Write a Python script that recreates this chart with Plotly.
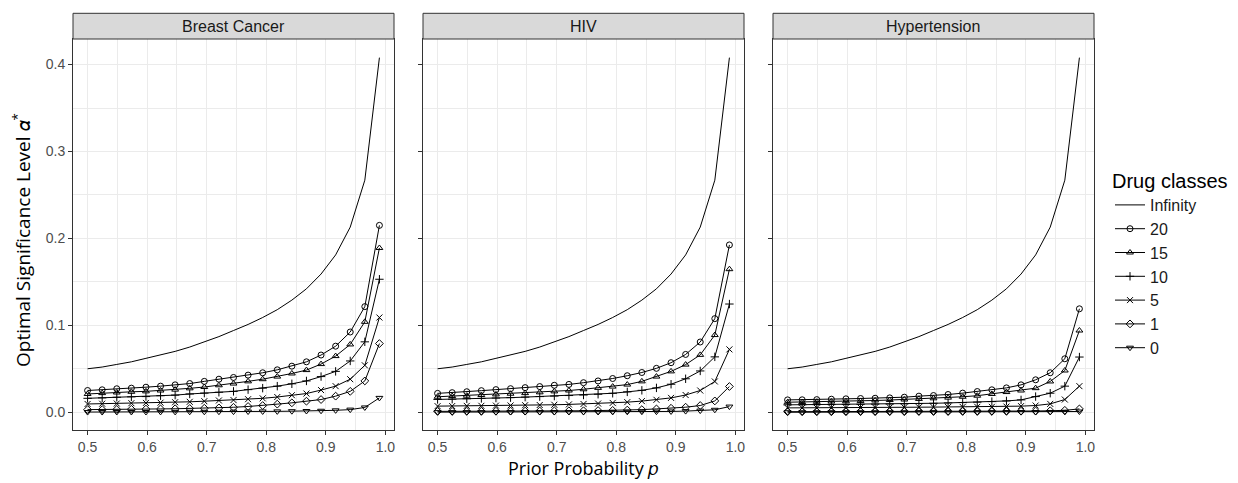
import plotly.graph_objects as go

# ---------------- data ----------------
prior_p = [0.5, 0.5245, 0.549, 0.5735, 0.598, 0.6225, 0.647, 0.6715, 0.696, 0.7205,
           0.745, 0.7695, 0.794, 0.8185, 0.843, 0.8675, 0.892, 0.9165, 0.941, 0.9655, 0.99]

panels = ["Breast Cancer", "HIV", "Hypertension"]
classes = ["Infinity", "20", "15", "10", "5", "1", "0"]

alpha_infinity = [0.050, 0.052, 0.055, 0.058, 0.062, 0.066, 0.070, 0.075, 0.081, 0.087, 0.094,
                  0.101, 0.109, 0.118, 0.129, 0.142, 0.159, 0.181, 0.213, 0.267, 0.408]

bc_20 = [0.025, 0.0258, 0.027, 0.0277, 0.0288, 0.030, 0.0315, 0.033, 0.0355, 0.038, 0.040,
         0.0427, 0.0454, 0.0488, 0.053, 0.058, 0.0658, 0.076, 0.0923, 0.1215, 0.215]
bc_15 = [0.021, 0.022, 0.0227, 0.0235, 0.024, 0.025, 0.026, 0.0275, 0.029, 0.031, 0.033,
         0.0355, 0.038, 0.041, 0.0446, 0.0485, 0.0554, 0.0646, 0.078, 0.104, 0.189]
bc_10 = [0.016, 0.0165, 0.0172, 0.0177, 0.018, 0.019, 0.0197, 0.021, 0.022, 0.023, 0.024,
         0.026, 0.0277, 0.030, 0.0327, 0.036, 0.041, 0.047, 0.059, 0.081, 0.153]
bc_5 = [0.0095, 0.0098, 0.010, 0.0104, 0.0107, 0.011, 0.0115, 0.012, 0.0127, 0.0135, 0.014,
        0.015, 0.016, 0.0175, 0.0196, 0.0215, 0.0255, 0.030, 0.038, 0.054, 0.109]
bc_1 = [0.003, 0.003, 0.0032, 0.0034, 0.0036, 0.0038, 0.004, 0.0043, 0.0046, 0.005, 0.0057,
        0.0066, 0.0077, 0.0093, 0.0108, 0.0127, 0.0146, 0.0185, 0.024, 0.036, 0.079]
bc_0 = [0.0002, 0.0002, 0.0003, 0.0003, 0.0003, 0.0004, 0.0004, 0.0005, 0.0005, 0.0006, 0.0007,
        0.0008, 0.0009, 0.001, 0.0012, 0.0014, 0.0017, 0.0022, 0.003, 0.0055, 0.0165]

hiv_20 = [0.0217, 0.0225, 0.0236, 0.0248, 0.026, 0.0271, 0.0283, 0.0295, 0.031, 0.032, 0.034,
          0.036, 0.0388, 0.042, 0.0457, 0.0505, 0.057, 0.0665, 0.0808, 0.1077, 0.1925]
hiv_15 = [0.0178, 0.0186, 0.019, 0.0198, 0.0205, 0.0213, 0.022, 0.0229, 0.024, 0.025, 0.0264,
          0.028, 0.0295, 0.0318, 0.0355, 0.041, 0.047, 0.0548, 0.066, 0.0888, 0.1646]
hiv_10 = [0.0147, 0.015, 0.0155, 0.0159, 0.0163, 0.0168, 0.0174, 0.018, 0.0186, 0.0192, 0.0198,
          0.0207, 0.0218, 0.0234, 0.0252, 0.028, 0.0322, 0.0385, 0.0475, 0.0637, 0.1245]
hiv_5 = [0.007, 0.0071, 0.0073, 0.0074, 0.0076, 0.0078, 0.0081, 0.0083, 0.0086, 0.009, 0.0095,
         0.010, 0.0107, 0.0116, 0.0128, 0.0143, 0.0165, 0.0198, 0.025, 0.0354, 0.0723]
hiv_1 = [0.001, 0.001, 0.0011, 0.0011, 0.0012, 0.0013, 0.0013, 0.0014, 0.0015, 0.0016, 0.0017,
         0.0019, 0.0021, 0.0025, 0.003, 0.0038, 0.0046, 0.0058, 0.0077, 0.013, 0.0296]
hiv_0 = [0.0001, 0.0001, 0.0001, 0.0001, 0.0001, 0.0002, 0.0002, 0.0002, 0.0002, 0.0003, 0.0003,
         0.0003, 0.0004, 0.0005, 0.0006, 0.0007, 0.0009, 0.0013, 0.0019, 0.0028, 0.0065]

hyp_20 = [0.0142, 0.0143, 0.0145, 0.015, 0.0154, 0.0158, 0.0161, 0.0165, 0.0173, 0.0185, 0.0192,
          0.0204, 0.022, 0.0238, 0.0258, 0.028, 0.0315, 0.0373, 0.0454, 0.0615, 0.119]
hyp_15 = [0.0115, 0.0117, 0.012, 0.0123, 0.0126, 0.013, 0.0135, 0.014, 0.0146, 0.0153, 0.016,
          0.0168, 0.0178, 0.019, 0.021, 0.0232, 0.025, 0.0277, 0.0354, 0.048, 0.094]
hyp_10 = [0.0085, 0.0086, 0.0087, 0.0088, 0.009, 0.0091, 0.0093, 0.0095, 0.0097, 0.010, 0.0103,
          0.0107, 0.0111, 0.0116, 0.0122, 0.013, 0.0142, 0.018, 0.0219, 0.030, 0.0635]
hyp_5 = [0.005, 0.005, 0.0051, 0.0052, 0.0053, 0.0054, 0.0055, 0.0056, 0.0057, 0.0058, 0.0059,
         0.0060, 0.0061, 0.0062, 0.0062, 0.0065, 0.007, 0.0077, 0.0096, 0.0146, 0.030]
hyp_1 = [0.0006, 0.0006, 0.0006, 0.0006, 0.0006, 0.0007, 0.0007, 0.0007, 0.0007, 0.0008, 0.0008,
         0.0008, 0.0009, 0.0009, 0.001, 0.0011, 0.0012, 0.0014, 0.0017, 0.0022, 0.0038]
hyp_0 = [0.0, 0.0, 0.0, 0.0, 0.0, 0.0, 0.0, 0.0, 0.0, 0.0001, 0.0001,
         0.0001, 0.0001, 0.0001, 0.0001, 0.0002, 0.0002, 0.0002, 0.0003, 0.0004, 0.0008]

x_ticks = [0.5, 0.6, 0.7, 0.8, 0.9, 1.0]
y_ticks = [0.0, 0.1, 0.2, 0.3, 0.4]

series = {
    "Breast Cancer": [alpha_infinity, bc_20, bc_15, bc_10, bc_5, bc_1, bc_0],
    "HIV": [alpha_infinity, hiv_20, hiv_15, hiv_10, hiv_5, hiv_1, hiv_0],
    "Hypertension": [alpha_infinity, hyp_20, hyp_15, hyp_10, hyp_5, hyp_1, hyp_0],
}

symbols = [None, "circle-open", "triangle-up-open", "cross-thin-open", "x-thin-open",
           "diamond-open", "triangle-down-open"]

# ---------------- layout geometry ----------------
W, H = 1238, 483
panel_px = [(73, 394), (423, 744), (773, 1094)]
plot_top, plot_bot = 39, 430
strip_top = 13.3

def px_x(v):
    return v / W

def px_y(v):
    return 1 - v / H

fig = go.Figure()

for i, panel in enumerate(panels):
    suffix = "" if i == 0 else str(i + 1)
    for j, cls in enumerate(classes):
        sym = symbols[j]
        tr = dict(
            x=prior_p, y=series[panel][j], name=cls,
            xaxis="x" + suffix, yaxis="y" + suffix,
            line=dict(color="black", width=1),
            showlegend=(i == 0), legendgroup=cls,
        )
        if sym is None:
            tr["mode"] = "lines"
        else:
            tr["mode"] = "lines+markers"
            tr["marker"] = dict(symbol=sym, size=6, color="black",
                                line=dict(color="black", width=1))
        fig.add_trace(go.Scatter(**tr))

tick_font = dict(family="Liberation Sans, Arial, sans-serif", size=14, color="#4D4D4D")
grid_col = "#EBEBEB"

layout = dict(
    width=W, height=H,
    margin=dict(l=0, r=0, t=0, b=0, autoexpand=False),
    paper_bgcolor="white", plot_bgcolor="white",
    font=dict(family="Liberation Sans, Arial, sans-serif", color="#1A1A1A"),
    legend=dict(
        x=px_x(1110), y=px_y(162), xanchor="left", yanchor="top",
        title=dict(text="Drug classes", font=dict(size=20, color="black")),
        font=dict(size=16, color="#1A1A1A"),
        tracegroupgap=0, itemwidth=30,
        bgcolor="rgba(0,0,0,0)",
    ),
    shapes=[], annotations=[],
)

for i, panel in enumerate(panels):
    suffix = "" if i == 0 else str(i + 1)
    x0, x1 = panel_px[i]
    layout["xaxis" + suffix] = dict(
        domain=[px_x(x0), px_x(x1)], anchor="y" + suffix, automargin=False,
        range=[0.4755, 1.0145], tickvals=x_ticks, tickformat=".1f",
        showgrid=True, gridcolor=grid_col, gridwidth=1,
        minor=dict(tickvals=[0.55, 0.65, 0.75, 0.85, 0.95], showgrid=True,
                   gridcolor=grid_col, gridwidth=0.6, ticks=""),
        ticks="outside", ticklen=4, tickcolor="#333333", tickwidth=1,
        tickfont=tick_font, showline=True, linecolor="#333333", linewidth=1,
        mirror=True, zeroline=False,
    )
    layout["yaxis" + suffix] = dict(
        domain=[px_y(plot_bot), px_y(plot_top)], anchor="x" + suffix, automargin=False,
        range=[-0.02045, 0.42945], tickvals=y_ticks, tickformat=".1f",
        showticklabels=(i == 0),
        showgrid=True, gridcolor=grid_col, gridwidth=1,
        minor=dict(tickvals=[0.05, 0.15, 0.25, 0.35], showgrid=True,
                   gridcolor=grid_col, gridwidth=0.6, ticks=""),
        ticks="outside", ticklen=4, tickcolor="#333333", tickwidth=1,
        tickfont=tick_font, showline=True, linecolor="#333333", linewidth=1,
        mirror=True, zeroline=False,
    )
    # facet strip
    layout["shapes"].append(dict(
        type="rect", xref="paper", yref="paper",
        x0=px_x(x0), x1=px_x(x1), y0=px_y(plot_top), y1=px_y(strip_top),
        fillcolor="#D9D9D9", line=dict(color="#333333", width=1), layer="above",
    ))
    layout["annotations"].append(dict(
        text=panel, xref="paper", yref="paper",
        x=(px_x(x0) + px_x(x1)) / 2, y=(px_y(plot_top) + px_y(strip_top)) / 2,
        showarrow=False, xanchor="center", yanchor="middle",
        font=dict(size=16, color="#1A1A1A"),
    ))

# axis titles
layout["annotations"].append(dict(
    text="Optimal Significance Level 𝛼<sup>*</sup>", xref="paper", yref="paper",
    x=px_x(22), y=px_y(240), textangle=-90, showarrow=False,
    xanchor="center", yanchor="middle",
    font=dict(family="Open Sans, Noto Sans, sans-serif", size=19, color="black"),
))
layout["annotations"].append(dict(
    text="Prior Probability 𝑝", xref="paper", yref="paper",
    x=px_x(583), y=px_y(482), showarrow=False,
    xanchor="center", yanchor="bottom",
    font=dict(family="Open Sans, Noto Sans, sans-serif", size=18, color="black"),
))

fig.update_layout(**layout)
fig.write_html(
    "out.html",
    config={"displayModeBar": False},
    post_script="document.body.style.margin='0';document.body.style.padding='0';"
                "document.body.style.overflow='hidden';",
)
